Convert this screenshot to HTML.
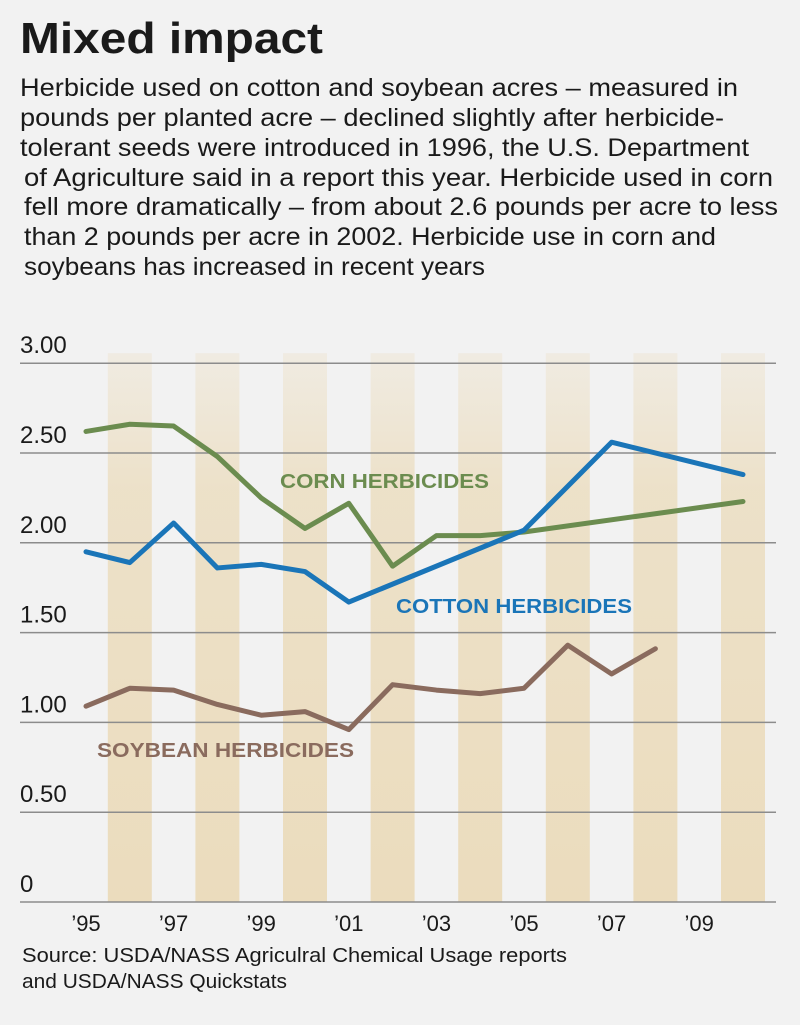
<!DOCTYPE html>
<html><head><meta charset="utf-8"><style>
html,body{margin:0;padding:0;background:#f2f2f2;}
svg{display:block;font-family:"Liberation Sans",sans-serif;}
</style></head><body>
<svg id="chart" width="800" height="1025" viewBox="0 0 800 1025" xmlns="http://www.w3.org/2000/svg">
<defs>
<linearGradient id="band" x1="0" y1="0" x2="0" y2="1">
<stop offset="0" stop-color="#ecdfc4" stop-opacity="0.35"/>
<stop offset="0.25" stop-color="#ecdfc4" stop-opacity="0.9"/>
<stop offset="1" stop-color="#ebdcbd"/>
</linearGradient>
</defs>
<rect width="800" height="1025" fill="#f2f2f2"/>
<text x="20" y="53" font-size="44" font-weight="bold" fill="#1a1a1a" textLength="303" lengthAdjust="spacingAndGlyphs">Mixed impact</text>
<g font-size="25" fill="#1a1a1a">
<text x="20" y="96" textLength="718" lengthAdjust="spacingAndGlyphs">Herbicide used on cotton and soybean acres – measured in</text>
<text x="20" y="126" textLength="704" lengthAdjust="spacingAndGlyphs">pounds per planted acre – declined slightly after herbicide-</text>
<text x="20" y="156" textLength="729" lengthAdjust="spacingAndGlyphs">tolerant seeds were introduced in 1996, the U.S. Department</text>
<text x="24" y="186" textLength="749" lengthAdjust="spacingAndGlyphs">of Agriculture said in a report this year. Herbicide used in corn</text>
<text x="24" y="215" textLength="754" lengthAdjust="spacingAndGlyphs">fell more dramatically – from about 2.6 pounds per acre to less</text>
<text x="24" y="245" textLength="692" lengthAdjust="spacingAndGlyphs">than 2 pounds per acre in 2002. Herbicide use in corn and</text>
<text x="24" y="275" textLength="461" lengthAdjust="spacingAndGlyphs">soybeans has increased in recent years</text>
</g>
<g id="bands"></g>
<g id="grid"></g>
<g id="series"></g>
<text x="280" y="488" font-size="20" font-weight="bold" fill="#6b8c4f" textLength="209" lengthAdjust="spacingAndGlyphs">CORN HERBICIDES</text>
<text x="396" y="613" font-size="20" font-weight="bold" fill="#1a75b8" textLength="236" lengthAdjust="spacingAndGlyphs">COTTON HERBICIDES</text>
<text x="97" y="757" font-size="20" font-weight="bold" fill="#8a6b5e" textLength="257" lengthAdjust="spacingAndGlyphs">SOYBEAN HERBICIDES</text>
<g font-size="20" fill="#1a1a1a">
<text x="22" y="962" textLength="545" lengthAdjust="spacingAndGlyphs">Source: USDA/NASS Agriculral Chemical Usage reports</text>
<text x="22" y="988" textLength="265" lengthAdjust="spacingAndGlyphs">and USDA/NASS Quickstats</text>
</g>
</svg>
<script>
const yTicks = [0, 0.5, 1, 1.5, 2, 2.5, 3];
const yTickLabels = ["0", "0.50", "1.00", "1.50", "2.00", "2.50", "3.00"];
const xTickYears = [1995, 1997, 1999, 2001, 2003, 2005, 2007, 2009];
const xTickLabels = ["\u201995", "\u201997", "\u201999", "\u201901", "\u201903", "\u201905", "\u201907", "\u201909"];
const bandYears = [1996, 1998, 2000, 2002, 2004, 2006, 2008, 2010];
const cornYears = [1995, 1996, 1997, 1998, 1999, 2000, 2001, 2002, 2003, 2004, 2005, 2010];
const cornValues = [2.62, 2.66, 2.65, 2.48, 2.25, 2.08, 2.22, 1.87, 2.04, 2.04, 2.06, 2.23];
const cottonYears = [1995, 1996, 1997, 1998, 1999, 2000, 2001, 2005, 2007, 2010];
const cottonValues = [1.95, 1.89, 2.11, 1.86, 1.88, 1.84, 1.67, 2.07, 2.56, 2.38];
const soyYears = [1995, 1996, 1997, 1998, 1999, 2000, 2001, 2002, 2003, 2004, 2005, 2006, 2007, 2008];
const soyValues = [1.09, 1.19, 1.18, 1.10, 1.04, 1.06, 0.96, 1.21, 1.18, 1.16, 1.19, 1.43, 1.27, 1.41];

const NS = "http://www.w3.org/2000/svg";
function x(yr){ return 86 + 43.8 * (yr - 1995); }
function y(v){ return 902 - 179.6 * v; }
function mk(tag, attrs, parent){
  const e = document.createElementNS(NS, tag);
  for (const k in attrs) e.setAttribute(k, attrs[k]);
  parent.appendChild(e); return e;
}
const bands = document.getElementById('bands');
bandYears.forEach(yr => {
  const r = mk('rect', {x: x(yr) - 22, y: y(3) - 10, width: 44, height: y(0) - y(3) + 10, fill: 'url(#band)'}, bands);
  
  
});
const grid = document.getElementById('grid');
yTicks.forEach((t, i) => {
  const l = mk('line', {x1: 20, x2: 776, y1: y(t), y2: y(t), stroke: '#8c8c8c', 'stroke-width': 1.5}, grid);
  
  
  const tx = mk('text', {x: 20, y: y(t) - 10, 'font-size': 24, fill: '#1a1a1a'}, grid);
  tx.textContent = yTickLabels[i];
  
  
});
xTickYears.forEach((yr, i) => {
  const tx = mk('text', {x: x(yr), y: 931, 'font-size': 22, fill: '#1a1a1a', 'text-anchor': 'middle'}, grid);
  tx.textContent = xTickLabels[i];
  
  
});
const series = document.getElementById('series');
function line(years, vals, color, name){
  const pts = years.map((yr, i) => x(yr) + ',' + y(vals[i])).join(' ');
  const p = mk('polyline', {points: pts, fill: 'none', stroke: color, 'stroke-width': 5, 'stroke-linejoin': 'round', 'stroke-linecap': 'round'}, series);
  
  
}
line(soyYears, soyValues, '#8a6b5e', 'soybean-line');
line(cornYears, cornValues, '#6b8c4f', 'corn-line');
line(cottonYears, cottonValues, '#1a75b8', 'cotton-line');
</script>
</body></html>
